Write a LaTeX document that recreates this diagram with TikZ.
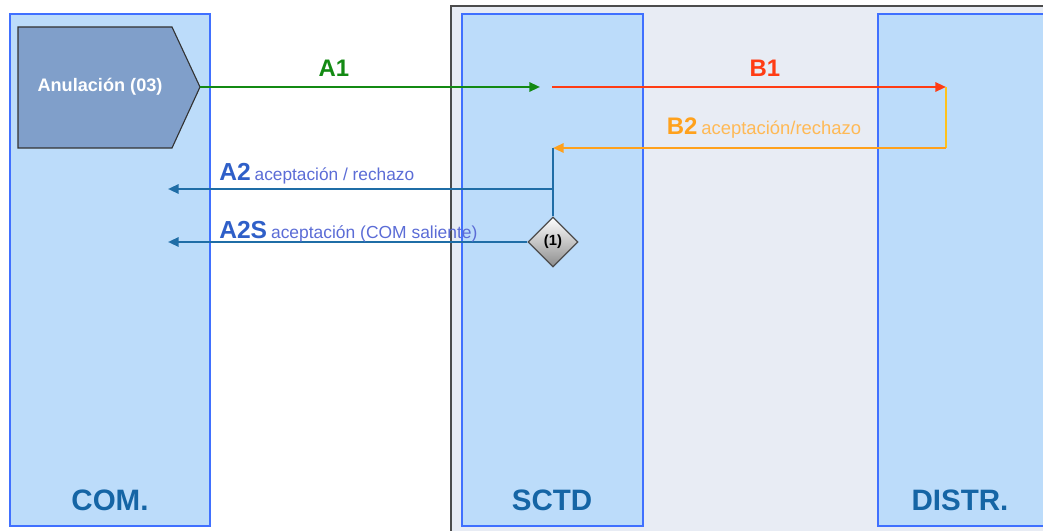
\documentclass[tikz,border=0pt]{standalone}
\usepackage{fontspec}
\setmainfont{Liberation Sans}
\usepackage{tikz}
\usetikzlibrary{arrows.meta, shapes.geometric, positioning}

\definecolor{lanefill}{HTML}{BCDCFA}
\definecolor{laneline}{HTML}{4070FF}
\definecolor{zonefill}{HTML}{E8ECF4}
\definecolor{pentafill}{HTML}{809FCA}
\definecolor{namecol}{HTML}{1565A5}
\definecolor{agreen}{HTML}{138A13}
\definecolor{bred}{HTML}{FF3C14}
\definecolor{borange}{HTML}{FFA11C}
\definecolor{byellow}{HTML}{FFC21C}
\definecolor{ablue}{HTML}{1F6DA6}
\definecolor{atext}{HTML}{2F5FC8}
\definecolor{asmall}{HTML}{5B6CD6}

\begin{document}
\begin{tikzpicture}[x=0.025cm, y=-0.025cm,
    lane/.style={draw=laneline, line width=1.6pt, fill=lanefill, minimum height=12.8cm, inner sep=0pt},
    lanename/.style={text=namecol, font=\bfseries\fontsize{21}{24}\selectfont},
    msg/.style={line width=1.6pt, -{Triangle[length=7.5pt,width=6.5pt]}},
    biglbl/.style={font=\bfseries\fontsize{17}{19}\selectfont}]
    \useasboundingbox (0,0) rectangle (1043,531);
    \clip (0,0) rectangle (1043,531);

    % Zone and lanes
    \draw[fill=zonefill, draw=black!70, line width=1pt] (451,6) rectangle (1060,545);
    \node[lane, minimum width=5cm] (com) at (110,270) {};
    \node[lane, minimum width=4.525cm] (sctd) at (552.5,270) {};
    \node[lane, minimum width=4.55cm] (distr) at (969,270) {};
    \node[lanename] (comname) at (110,500) {COM.};
    \node[lanename] (sctdname) at (552,500) {SCTD};
    \node[lanename] (distrname) at (960,500) {DISTR.};

    % Start event
    \draw[fill=pentafill, draw=black!80, line width=0.8pt]
        (18,27) -- (172,27) -- (200,87) -- (172,148) -- (18,148) -- cycle;
    \node[text=white, font=\bfseries\fontsize{12.9}{15}\selectfont] (anul) at (100,87) {Anulación (03)};
    \coordinate (anultip) at (200,87);

    % Points on the lanes
    \coordinate (a1end) at (540,87);
    \coordinate (b1start) at (552,87);
    \coordinate (b1end) at (946,87);
    \coordinate (b2turn) at (946,148);
    \coordinate (b2end) at (553,148);
    \coordinate (a2split) at (553,189);
    \coordinate (a2end) at (168,189);
    \coordinate (a2send) at (168,242);
    \node[diamond, draw=black!70, line width=0.8pt, top color=white, bottom color=black!45,
        minimum width=1.25cm, minimum height=1.25cm, inner sep=0pt,
        font=\bfseries\fontsize{10.5}{12}\selectfont] (gate) at (553,242) {(1)};

    % Messages
    \draw[msg, agreen] (anultip) -- (a1end);
    \draw[msg, bred] (b1start) -- (b1end);
    \draw[line width=1.6pt, byellow] (b1end) -- (b2turn);
    \draw[msg, borange] (b2turn) -- (b2end);
    \draw[line width=1.6pt, ablue] (b2end) -- (gate.north);
    \draw[msg, ablue] (a2split) -- (a2end);
    \draw[msg, ablue] (gate.west) -- (a2send);

    % Labels
    \node[biglbl, text=agreen] (a1lbl) at (334,68) {A1};
    \node[biglbl, text=bred] (b1lbl) at (765,68) {B1};
    \node[anchor=base] (b2lbl) at (764,135)
        {\textcolor{borange}{\bfseries\fontsize{17}{19}\selectfont B2} \textcolor{borange!75}{\fontsize{13.1}{15}\selectfont aceptación/rechazo}};
    \node[anchor=base west, inner sep=0pt] (a2lbl) at (219,180)
        {\textcolor{atext}{\bfseries\fontsize{17.5}{19}\selectfont A2} \textcolor{asmall}{\fontsize{12.3}{14}\selectfont aceptación / rechazo}};
    \node[anchor=base west, inner sep=0pt] (a2slbl) at (219,238)
        {\textcolor{atext}{\bfseries\fontsize{17.5}{19}\selectfont A2S} \textcolor{asmall}{\fontsize{12.4}{14}\selectfont aceptación (COM saliente)}};
\end{tikzpicture}
\end{document}
